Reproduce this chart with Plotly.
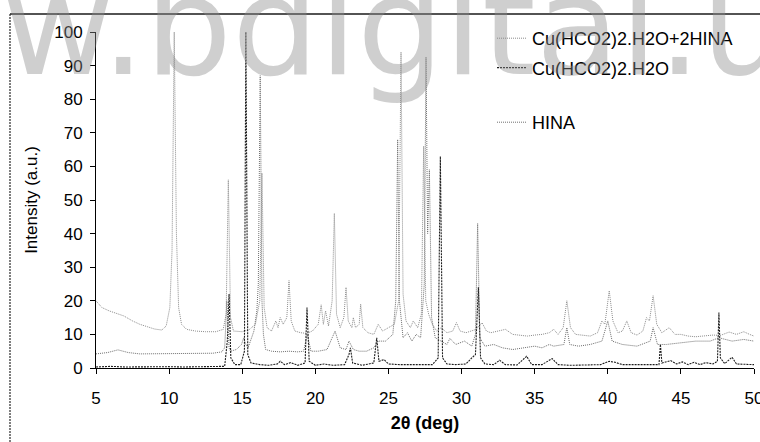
import plotly.graph_objects as go

# ---------------- data ----------------
tick_vals_x = [5, 10, 15, 20, 25, 30, 35, 40, 45, 50]
tick_vals_y = [0, 10, 20, 30, 40, 50, 60, 70, 80, 90, 100]

series_names = ["Cu(HCO2)2.H2O+2HINA", "Cu(HCO2)2.H2O", "HINA"]

# Cu(HCO2)2.H2O+2HINA (top trace)
a_x = [5.0, 5.4, 5.9, 6.4, 6.9, 7.5, 8.0, 8.5, 9.0, 9.5, 9.8, 10.05, 10.2, 10.35, 10.5, 10.65, 10.85,
       11.2, 11.8, 12.5, 13.2, 13.7, 13.9, 14.05, 14.2, 14.4, 15.0, 15.5, 15.9, 16.2, 16.35, 16.5, 16.7,
       17.0, 17.3, 17.45, 17.6, 17.8, 18.05, 18.2, 18.35, 18.6, 19.0, 19.4, 19.8, 20.2, 20.4, 20.55,
       20.7, 20.9, 21.15, 21.3, 21.45, 21.7, 21.95, 22.1, 22.25, 22.5, 22.6, 22.75, 23.0, 23.1, 23.25,
       23.6, 24.0, 24.3, 24.6, 25.0, 25.4, 25.7, 25.86, 26.0, 26.2, 26.5, 26.7, 27.0, 27.25, 27.41,
       27.55, 27.75, 28.0, 28.3, 28.6, 29.0, 29.4, 29.65, 29.9, 30.3, 30.7, 31.0, 31.4, 31.7, 32.0,
       32.5, 33.0, 33.5, 34.0, 34.5, 35.0, 35.5, 36.0, 36.3, 36.6, 36.95, 37.2, 37.45, 37.8, 38.3,
       38.8, 39.3, 39.6, 39.8, 40.1, 40.35, 40.7, 41.0, 41.3, 41.6, 42.0, 42.4, 42.65, 42.85, 43.1,
       43.35, 43.7, 44.2, 44.6, 45.0, 45.5, 46.0, 46.6, 47.2, 47.7, 48.3, 48.8, 49.3, 49.7, 50.0]
a_y = [20.0, 18.0, 17.0, 16.3, 15.5, 14.0, 13.0, 12.3, 11.6, 11.3, 12.5, 18.0, 35.0, 100.0, 40.0, 18.0, 13.0,
       11.5, 11.0, 10.8, 10.8, 11.5, 16.0, 56.0, 15.0, 11.0, 10.8, 11.5, 13.0, 20.0, 58.0, 18.0, 12.0,
       11.0, 14.0, 12.0, 15.0, 13.0, 15.0, 26.0, 14.0, 11.0, 10.5, 10.3, 11.0, 13.0, 18.8, 13.0,
       17.0, 12.5, 20.0, 46.0, 16.0, 12.0, 15.0, 24.0, 14.0, 12.0, 15.0, 12.0, 13.0, 19.0, 12.0,
       10.5, 10.0, 13.0, 11.0, 12.0, 13.0, 20.0, 94.0, 22.0, 14.0, 12.0, 14.0, 12.0, 16.0, 66.0,
       20.0, 16.0, 13.0, 11.0, 12.0, 10.5, 11.0, 13.5, 11.0, 10.5, 11.0, 11.5, 13.5, 11.0, 10.5,
       11.0, 11.5, 10.0, 9.8, 9.5, 9.8, 10.0, 10.5, 11.5, 10.0, 12.0, 20.0, 12.0, 10.0, 9.8,
       9.5, 10.5, 14.0, 13.0, 23.0, 14.0, 10.5, 11.0, 14.0, 10.5, 9.8, 11.0, 15.0, 14.0, 21.5,
       13.0, 10.5, 12.0, 10.0, 10.0, 9.5, 9.3, 9.5, 9.8, 9.7, 10.7, 10.0, 10.8, 10.0, 9.5]

# Cu(HCO2)2.H2O (bottom trace)
c_x = [5.0, 6.0, 7.0, 8.0, 9.0, 10.0, 11.0, 12.0, 13.0, 13.8, 13.98, 14.1, 14.22, 14.5, 14.9, 15.15,
       15.25, 15.38, 15.6, 16.2, 16.8, 17.4, 17.6, 17.9, 18.3, 18.8, 19.3, 19.43, 19.58, 20.0, 20.6,
       21.2, 22.0, 22.3, 22.4, 22.55, 23.2, 24.0, 24.2, 24.35, 24.7, 25.0, 25.8, 26.5, 27.2, 28.0,
       28.4, 28.55, 28.7, 29.0, 29.6, 30.3, 30.7, 30.95, 31.15, 31.3, 31.6, 32.2, 32.6, 33.0, 33.8,
       34.45, 34.8, 35.5, 36.2, 36.6, 37.5, 38.5, 39.5, 40.1, 40.5, 41.0, 42.0, 43.0, 43.5, 43.6,
       43.7, 44.3, 44.7, 45.1, 45.5, 45.9, 46.3, 46.7, 47.2, 47.5, 47.6, 47.7, 48.0, 48.5, 48.8,
       49.5, 50.0]
c_y = [0.3, 0.5, 0.3, 0.4, 0.3, 0.4, 0.3, 0.3, 0.4, 0.5, 8.0, 22.0, 3.0, 1.0, 1.0, 5.0,
       100.0, 4.0, 1.5, 1.0, 0.8, 1.2, 2.0, 1.0, 1.6, 0.8, 1.5, 18.0, 2.0, 0.8, 1.2,
       0.8, 1.0, 4.0, 6.0, 1.5, 0.8, 1.5, 9.0, 2.0, 2.5, 1.2, 1.0, 1.0, 0.8, 1.0,
       3.0, 63.0, 3.0, 1.2, 1.0, 1.2, 3.0, 4.0, 24.0, 3.0, 1.2, 1.0, 2.3, 1.0, 0.9,
       3.5, 1.0, 1.0, 2.8, 1.0, 0.8, 0.9, 1.0, 2.0, 1.7, 1.0, 0.9, 1.0, 1.0, 7.0,
       1.5, 2.2, 1.2, 1.8, 1.0, 1.7, 1.0, 1.6, 1.2, 2.0, 16.5, 3.0, 1.3, 3.2, 1.2,
       1.2, 1.0]

# HINA (middle trace)
b_x = [5.0, 5.8, 6.5, 7.2, 8.0, 9.0, 10.0, 11.0, 12.0, 13.0, 13.6, 13.8, 13.95, 14.1, 14.2, 14.6,
       14.95, 15.1, 15.25, 15.4, 15.8, 16.0, 16.1, 16.23, 16.35, 16.45, 16.6, 17.0, 17.6, 18.2,
       18.8, 19.2, 19.45, 19.7, 20.2, 20.8, 21.15, 21.35, 21.7, 22.1, 22.3, 22.6, 23.0, 23.5, 24.0,
       24.3, 24.8, 25.3, 25.5, 25.63, 25.75, 26.0, 26.3, 26.6, 26.9, 27.2, 27.45, 27.57, 27.68,
       27.8, 27.95, 28.2, 28.6, 29.0, 29.2, 29.6, 30.2, 30.7, 30.95, 31.1, 31.25, 31.6, 32.2, 32.8,
       33.5, 34.2, 35.0, 35.5, 36.0, 36.3, 37.0, 37.2, 37.4, 38.0, 38.8, 39.6, 40.0, 40.3, 41.0,
       42.0, 42.9, 43.1, 43.4, 44.0, 45.0, 46.0, 47.0, 47.6, 48.5, 49.3, 50.0]
b_y = [4.2, 4.6, 5.4, 4.6, 4.2, 4.2, 4.3, 4.2, 4.2, 4.4, 4.8, 6.0, 20.0, 6.0, 5.0, 5.5,
       7.0, 9.0, 7.0, 6.0, 11.0, 17.0, 25.0, 87.0, 20.0, 10.0, 5.5, 5.0, 4.8, 5.0,
       4.8, 5.0, 10.0, 5.0, 5.0, 5.5, 9.0, 11.0, 6.0, 5.5, 8.0, 5.5, 5.0, 5.0, 6.0,
       8.0, 8.0, 10.0, 20.0, 68.0, 20.0, 9.0, 10.5, 8.0, 10.0, 9.0, 25.0, 92.5, 40.0,
       59.0, 15.0, 9.0, 8.0, 7.0, 8.8, 7.0, 8.0, 6.5, 10.0, 43.0, 9.0, 6.5, 7.0, 6.0,
       5.5, 6.0, 6.5, 6.0, 7.0, 6.5, 7.0, 12.0, 7.0, 6.5, 7.0, 8.0, 14.0, 8.0, 7.0,
       6.5, 8.0, 12.0, 7.0, 7.0, 7.5, 8.0, 8.0, 9.0, 8.0, 8.5, 8.0]

# ---------------- figure ----------------
W, H = 760, 442
ML, MR, MT, MB = 96, 6, 32, 74
PW, PH = W - ML - MR, H - MT - MB


def px(xp):
    return (xp - ML) / PW


def py(yp):
    return (H - MB - yp) / PH


FONT = "Liberation Sans, Arial, sans-serif"

fig = go.Figure()

fig.add_trace(go.Scatter(
    x=a_x, y=a_y, mode="lines", name=series_names[0], legend="legend", legendgroup="a",
    line=dict(color="#8c8c8c", width=1, dash="1px,1px")))
fig.add_trace(go.Scatter(
    x=b_x, y=b_y, mode="lines", name=series_names[2], legend="legend2", legendgroup="b",
    line=dict(color="#6e6e6e", width=1, dash="1px,1px")))
fig.add_trace(go.Scatter(
    x=c_x, y=c_y, mode="lines", name=series_names[1], legend="legend", legendgroup="c",
    line=dict(color="#1e1e1e", width=1.1, dash="2px,1px")))

axis_common = dict(showline=True, linecolor="black", linewidth=1, ticks="outside", ticklen=5,
                   tickcolor="black", showgrid=False, zeroline=False,
                   ticklabeloverflow="allow",
                   tickfont=dict(family=FONT, size=17, color="black"))

fig.update_layout(
    width=W, height=H, margin=dict(l=ML, r=MR, t=MT, b=MB, autoexpand=False),
    paper_bgcolor="white", plot_bgcolor="white",
    xaxis=dict(range=[5, 50], tickvals=tick_vals_x, ticklabelstandoff=10,
               title=dict(text="<b>2θ (deg)</b>", font=dict(family=FONT, size=18, color="black"),
                          standoff=8),
               **axis_common),
    yaxis=dict(range=[0, 100], tickvals=tick_vals_y, ticklabelstandoff=4,
               title=dict(text="Intensity (a.u.)", font=dict(family=FONT, size=17, color="black"),
                          standoff=12),
               **axis_common),
    legend=dict(x=px(492), y=py(20), xanchor="left", yanchor="top", bgcolor="rgba(0,0,0,0)",
                font=dict(family=FONT, size=18, color="black"), tracegroupgap=3,
                itemwidth=30),
    legend2=dict(x=px(492), y=py(104), xanchor="left", yanchor="top", bgcolor="rgba(0,0,0,0)",
                 font=dict(family=FONT, size=18, color="black"), itemwidth=30),
    showlegend=True,
)

# outer frame of the scanned figure
fig.add_shape(type="line", xref="paper", yref="paper", x0=px(10), x1=px(W), y0=py(14), y1=py(14),
              line=dict(color="#1a1a1a", width=1.5))
fig.add_shape(type="line", xref="paper", yref="paper", x0=px(10), x1=px(10), y0=py(14), y1=py(H),
              line=dict(color="#2a2a2a", width=1.2, dash="2px,1px"))

# watermark of the scan
fig.add_annotation(text="w.bdigital.unal", xref="paper", yref="paper", x=px(0), y=py(108),
                   xanchor="left", yanchor="bottom", showarrow=False,
                   font=dict(family="DejaVu Sans", size=137, color="rgba(140,140,140,0.42)"))

fig.write_html("out.html")
